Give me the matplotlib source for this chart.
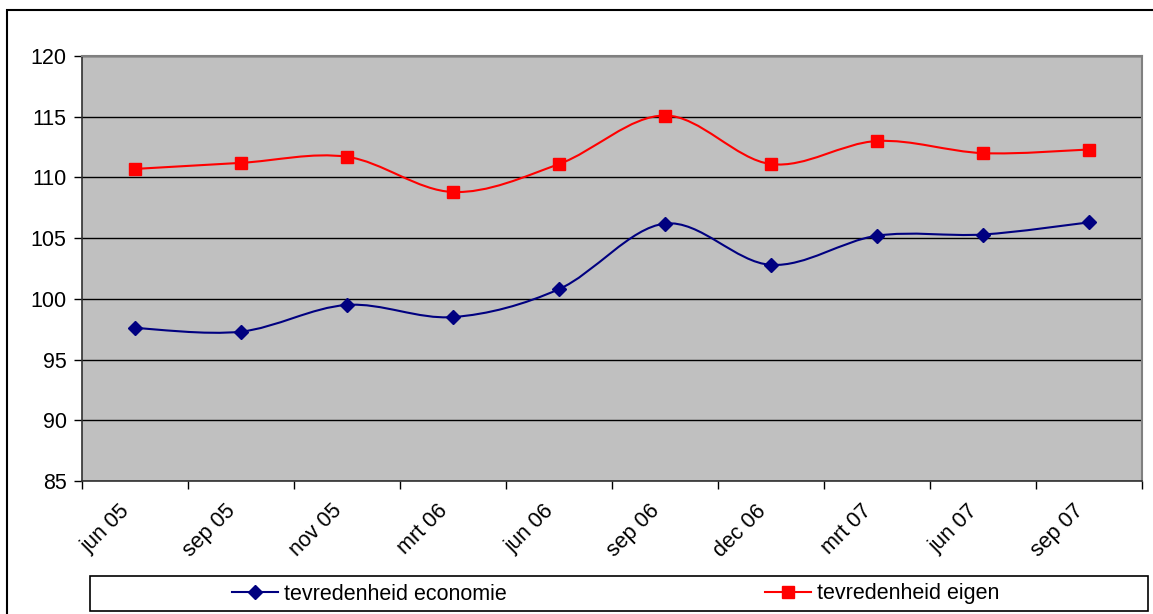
import numpy as np
import matplotlib.pyplot as plt
from matplotlib.path import Path
from matplotlib.patches import PathPatch, Rectangle
from matplotlib.lines import Line2D
from matplotlib.transforms import ScaledTranslation

plt.rcParams['font.family'] = ['Liberation Sans', 'DejaVu Sans']

months = ['jun 05', 'sep 05', 'nov 05', 'mrt 06', 'jun 06',
          'sep 06', 'dec 06', 'mrt 07', 'jun 07', 'sep 07']
economie = [97.6, 97.3, 99.5, 98.5, 100.8, 106.2, 102.8, 105.2, 105.3, 106.3]
eigen = [110.7, 111.2, 111.7, 108.8, 111.1, 115.1, 111.1, 113.0, 112.0, 112.3]

FS = 15.5

fig = plt.figure(figsize=(11.53, 6.14), dpi=100)
ax = fig.add_axes([82 / 1153, 1 - 481 / 614, 1060 / 1153, 425 / 614])
ax.set_facecolor('#C0C0C0')


def smooth_path(xs, ys):
    # excel-like smoothed line: cubic bezier through every point
    pts = np.column_stack([xs, ys])
    n = len(pts)
    verts = [pts[0]]
    codes = [Path.MOVETO]
    for i in range(n - 1):
        p0 = pts[max(i - 1, 0)]
        p1 = pts[i]
        p2 = pts[i + 1]
        p3 = pts[min(i + 2, n - 1)]
        verts += [p1 + (p2 - p0) / 6, p2 - (p3 - p1) / 6, p2]
        codes += [Path.CURVE4] * 3
    return Path(verts, codes)


x = np.arange(len(months))
for vals, col, mk, ms in [(economie, '#000080', 'D', 7.5), (eigen, '#FF0000', 's', 8)]:
    ax.add_patch(PathPatch(smooth_path(x, vals), facecolor='none', edgecolor=col,
                           lw=1.5, zorder=3))
    ax.plot(x, vals, ls='none', marker=mk, color=col, ms=ms, zorder=4)

ax.set_xlim(-0.5, len(months) - 0.5)
ax.set_ylim(85, 120)
ax.set_yticks(range(85, 121, 5))
ax.yaxis.grid(True, color='#000000', lw=1)
ax.set_axisbelow(True)

ax.set_xticks(np.arange(-0.5, len(months), 1))
ax.set_xticklabels([])
ax.set_xticks(x, minor=True)
ax.set_xticklabels(months, minor=True, rotation=45, ha='right', va='top',
                   rotation_mode='anchor', fontsize=FS)
ax.tick_params(axis='x', which='minor', length=0, pad=14)
ax.tick_params(axis='x', which='major', length=6, width=1, color='#000000')
ax.tick_params(axis='y', length=6, width=1, labelsize=FS, pad=5)
shift = ScaledTranslation(-16 / 100, 0, fig.dpi_scale_trans)
for lab in ax.get_xticklabels(minor=True):
    lab.set_transform(lab.get_transform() + shift)

for s in ['top', 'right']:
    ax.spines[s].set_color('#808080')
    ax.spines[s].set_linewidth(1.5)
for s in ['left', 'bottom']:
    ax.spines[s].set_color('#303030')
    ax.spines[s].set_linewidth(1.2)

# outer chart border
fig.patches.append(Rectangle((7 / 1153, -0.1), 1.2, 1 - 10 / 614 + 0.1,
                             transform=fig.transFigure, fill=False,
                             edgecolor='#000000', lw=1.5))
# legend box
fig.patches.append(Rectangle((90 / 1153, 1 - 611 / 614), 1058 / 1153, 35 / 614,
                             transform=fig.transFigure, fill=False,
                             edgecolor='#000000', lw=1.2))

h1 = Line2D([], [], color='#000080', marker='D', ms=7.5, lw=1.5)
h2 = Line2D([], [], color='#FF0000', marker='s', ms=8, lw=1.5)
fig.legend([h1], ['tevredenheid economie'], loc='center left',
           bbox_to_anchor=(213 / 1153, 1 - 594 / 614), frameon=False,
           fontsize=FS, handlelength=2.1, handletextpad=0.28)
fig.legend([h2], ['tevredenheid eigen'], loc='center left',
           bbox_to_anchor=(746 / 1153, 1 - 594 / 614), frameon=False,
           fontsize=FS, handlelength=2.1, handletextpad=0.28)

fig.savefig('out.png', dpi=100)
